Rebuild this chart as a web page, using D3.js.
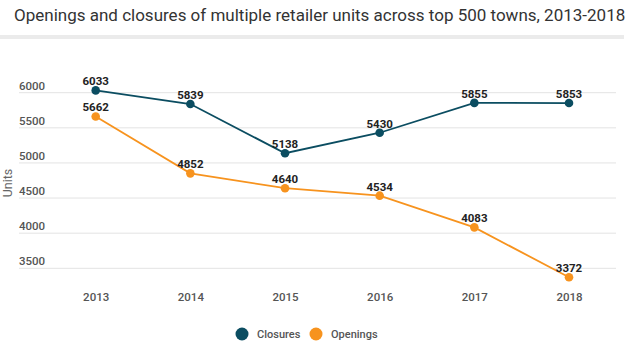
<!DOCTYPE html>
<html><head><meta charset="utf-8">
<script src="https://cdn.jsdelivr.net/npm/d3@7"></script>
<style>
html,body{margin:0;padding:0;background:#fff;}
svg{display:block;font-family:Roboto,"Noto Sans",sans-serif;}
</style></head>
<body>
<svg id="chart" width="641" height="359"></svg>
<script>
const years = ["2013","2014","2015","2016","2017","2018"];
const closures = [6033,5839,5138,5430,5855,5853];
const openings = [5662,4852,4640,4534,4083,3372];
const yTicks = [3500,4000,4500,5000,5500,6000];
const seriesNames = ["Closures","Openings"];
const colors = ["#0b4d61","#f7931e"];

const svg = d3.select("#chart");

svg.append("text").attr("x",14).attr("y",21)
  .attr("font-size",17).attr("fill","#333")
  .text("Openings and closures of multiple retailer units across top 500 towns, 2013-2018");
svg.append("rect").attr("x",0).attr("y",35).attr("width",624).attr("height",4).attr("fill","#ebebeb");

const x = d3.scalePoint().domain(years).range([95.7,569]);
const y = d3.scaleLinear().domain([3500,6000]).range([268.3,92.7]);

const grid = svg.append("g");
yTicks.forEach(t=>{
  grid.append("line").attr("x1",19).attr("x2",616).attr("y1",y(t)).attr("y2",y(t))
    .attr("stroke","#e3e3e3").attr("stroke-width",1);
  grid.append("text").attr("x",19).attr("y",y(t)-3).attr("font-size",11.5)
    .attr("font-weight",500).attr("fill","#555").text(t);
});

const xAxis = d3.axisBottom(x).tickSize(0).tickPadding(0);
const gx = svg.append("g").attr("transform","translate(0,293)").call(xAxis);
gx.select(".domain").remove();
gx.selectAll("text").attr("font-size",11.5).attr("font-weight",500).attr("fill","#555")
  .attr("font-family","Roboto,sans-serif");

svg.append("text").attr("transform","translate(12,183) rotate(-90)")
  .attr("text-anchor","middle").attr("font-size",12.5).attr("fill","#666").text("Units");

const data = [closures, openings];
const line = d3.line().x((d,i)=>x(years[i])).y(d=>y(d));
data.forEach((s,k)=>{
  svg.append("path").datum(s).attr("d",line).attr("fill","none")
    .attr("stroke",colors[k]).attr("stroke-width",1.8);
});
data.forEach((s,k)=>{
  svg.append("g").selectAll("circle").data(s).join("circle")
    .attr("cx",(d,i)=>x(years[i])).attr("cy",d=>y(d)).attr("r",4.3).attr("fill",colors[k]);
});
data.forEach((s,k)=>{
  svg.append("g").selectAll("text").data(s).join("text")
    .attr("x",(d,i)=>x(years[i])).attr("y",d=>y(d)-5)
    .attr("text-anchor","middle").attr("font-size",11.5).attr("font-weight",700)
    .attr("fill","#222").text(d=>d);
});

const leg = [[242,257],[316,331]];
seriesNames.forEach((n,k)=>{
  svg.append("circle").attr("cx",leg[k][0]).attr("cy",334).attr("r",6.5).attr("fill",colors[k]);
  svg.append("text").attr("x",leg[k][1]).attr("y",338).attr("font-size",11)
    .attr("font-weight",500).attr("fill","#555").text(n);
});
</script>
</body></html>
